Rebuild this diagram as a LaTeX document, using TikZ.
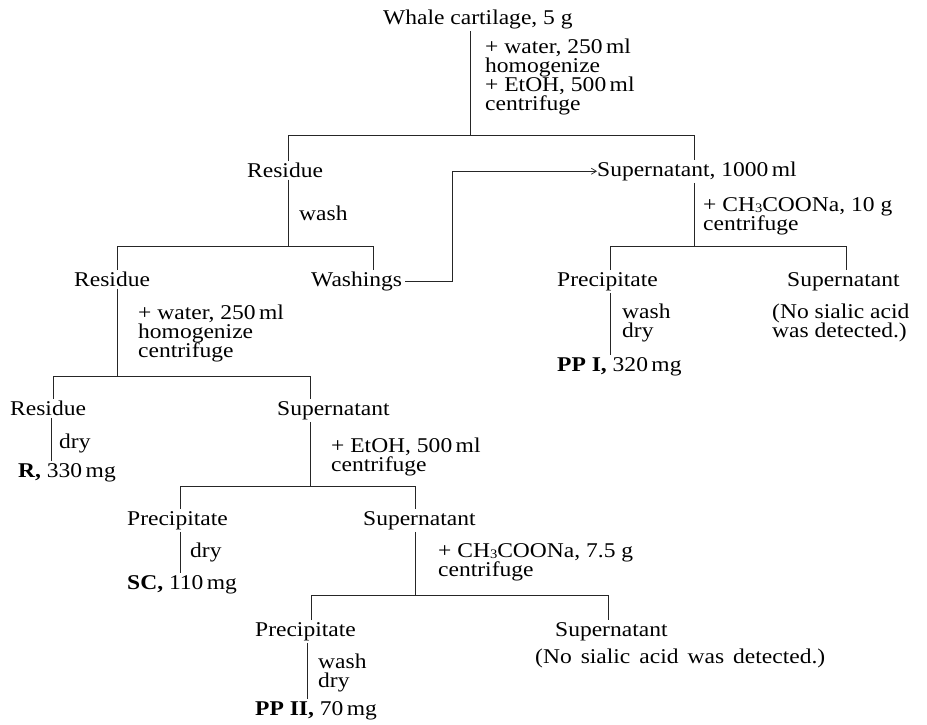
\documentclass[tikz,border=0pt]{standalone}
\usepackage{fontspec}
\setmainfont{Liberation Serif}[FakeStretch=1.12]
\usetikzlibrary{arrows.meta}
\newcommand\chsub[1]{\raisebox{-1.5pt}{\fontsize{13}{13}\selectfont #1}}
\begin{document}
\lineskiplimit=-20pt\relax
\begin{tikzpicture}[x=1pt,y=-1pt,
  lbl/.style={anchor=mid west, inner xsep=0pt, inner ysep=2pt, yshift=-5pt, font=\fontsize{21}{19}\selectfont},
  note/.style={anchor=north west, inner xsep=0pt, inner ysep=2pt, yshift=-2pt, align=left, font=\fontsize{21}{19}\selectfont},
  link/.style={draw=black!85, line width=0.7pt},
  feed/.style={link, -{Straight Barb[length=5pt,width=6pt]}}]
\useasboundingbox (0,0) rectangle (927,724);
% ---- text nodes
\node[lbl] (whale) at (383,17) {Whale cartilage, 5 g};
\node[note] (stA) at (485,35) {+ water, 250\,ml\\ homogenize\\ + EtOH, 500\,ml\\ centrifuge};
\node[lbl] (resA) at (247,170) {Residue};
\node[lbl] (supA) at (597,169) {Supernatant, 1000\,ml};
\node[lbl] (washA) at (299,213) {wash};
\node[note] (stB) at (703,193) {+ CH\chsub{3}COONa, 10 g\\ centrifuge};
\node[lbl] (resB) at (74,279) {Residue};
\node[lbl] (wsh) at (311,279) {Washings};
\node[lbl] (precA) at (557,279) {Precipitate};
\node[lbl] (supB) at (787,279) {Supernatant};
\node[note] (wdA) at (622,300) {wash\\ dry};
\node[note] (nsA) at (772,300) {(No sialic acid\\ was detected.)};
\node[lbl] (ppI) at (557,364) {\textbf{PP I,} 320\,mg};
\node[note] (stC) at (138,301) {+ water, 250\,ml\\ homogenize\\ centrifuge};
\node[lbl] (resC) at (10,408) {Residue};
\node[lbl] (supC) at (277,408) {Supernatant};
\node[lbl] (dryC) at (59,441) {dry};
\node[lbl] (R) at (18,470) {\textbf{R,} 330\,mg};
\node[note] (stD) at (331,434) {+ EtOH, 500\,ml\\ centrifuge};
\node[lbl] (precD) at (127,518) {Precipitate};
\node[lbl] (supD) at (363,518) {Supernatant};
\node[lbl] (dryD) at (190,550) {dry};
\node[lbl] (SC) at (127,582) {\textbf{SC,} 110\,mg};
\node[note] (stE) at (438,539) {+ CH\chsub{3}COONa, 7.5 g\\ centrifuge};
\node[lbl] (precE) at (255,629) {Precipitate};
\node[lbl] (supE) at (555,629) {Supernatant};
\node[note] (wdE) at (318,650) {wash\\ dry};
\node[lbl] (nsE) at (535,656) {\spaceskip=9pt plus 1pt(No sialic acid was detected.)};
\node[lbl] (ppII) at (255,708) {\textbf{PP II,} 70\,mg};
% ---- junction coordinates
\coordinate (j0) at (470,135);
\coordinate (b1L) at (288,135);
\coordinate (b1R) at (694,135);
\coordinate (j1) at (288,246);
\coordinate (b2L) at (117,246);
\coordinate (b2R) at (373,246);
\coordinate (k1) at (452,246);
\coordinate (j2) at (694,246);
\coordinate (b3L) at (610,246);
\coordinate (b3R) at (846,246);
\coordinate (j3) at (117,376);
\coordinate (b4L) at (53,376);
\coordinate (b4R) at (310,376);
\coordinate (v2) at (51,400);
\coordinate (j4) at (310,486);
\coordinate (b5L) at (180,486);
\coordinate (b5R) at (415,486);
\coordinate (j5) at (415,595);
\coordinate (b6L) at (311,595);
\coordinate (b6R) at (608,595);
\coordinate (v3) at (307,650);
% ---- connectors
\draw[link] (whale.south -| j0) -- (j0);
\draw[link] (resA.north -| b1L) -- (b1L) -- (b1R) -- (supA.north -| b1R);
\draw[link] (resA.south -| j1) -- (j1);
\draw[link] (resB.north -| b2L) -- (b2L) -- (b2R) -- (wsh.north -| b2R);
\draw[feed] ([xshift=3pt]wsh.east) -- (wsh.east -| k1) -- (supA.west -| k1) -- (supA.west);
\draw[link] (supA.south -| j2) -- (j2);
\draw[link] (precA.north -| b3L) -- (b3L) -- (b3R) -- (supB.north -| b3R);
\draw[link] (precA.south -| b3L) -- (ppI.north -| b3L);
\draw[link] (resB.south -| j3) -- (j3);
\draw[link] (resC.north -| b4L) -- (b4L) -- (b4R) -- (supC.north -| b4R);
\draw[link] (resC.south -| v2) -- (R.north -| v2);
\draw[link] (supC.south -| j4) -- (j4);
\draw[link] (precD.north -| b5L) -- (b5L) -- (b5R) -- (supD.north -| b5R);
\draw[link] (precD.south -| b5L) -- (SC.north -| b5L);
\draw[link] (supD.south -| j5) -- (j5);
\draw[link] (precE.north -| b6L) -- (b6L) -- (b6R) -- (supE.north -| b6R);
\draw[link] (precE.south -| v3) -- (ppII.north -| v3);
\end{tikzpicture}
\end{document}
